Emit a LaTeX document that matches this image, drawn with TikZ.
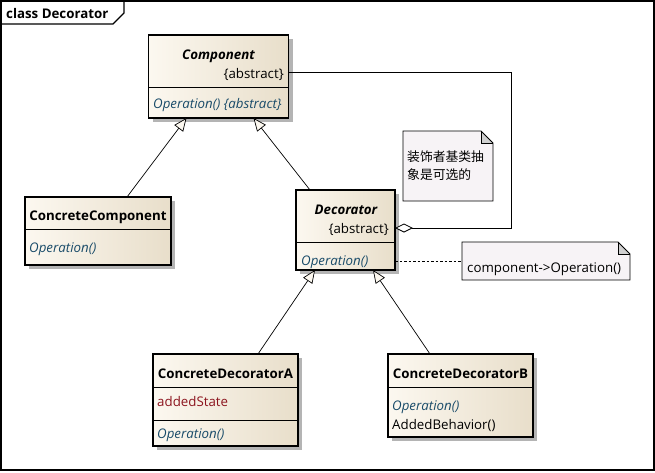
\documentclass[tikz,border=0pt]{standalone}
\usepackage{fontspec}
\setmainfont{Open Sans}
\newfontfamily\cjk{Noto Sans CJK SC}
\usetikzlibrary{arrows.meta,shadows,calc}
\definecolor{boxL}{RGB}{252,248,240}
\definecolor{boxR}{RGB}{232,222,202}
\definecolor{opcol}{RGB}{25,75,105}
\definecolor{attrcol}{RGB}{140,20,30}
\definecolor{notefill}{RGB}{247,243,246}
\definecolor{foldfill}{RGB}{208,208,208}
\definecolor{shadowcol}{RGB}{180,180,180}
\tikzset{
  classbox/.style={draw=black, line width=1.2pt, left color=boxL, right color=boxR,
    inner sep=0pt, outer sep=0pt,
    drop shadow={shadow xshift=4pt, shadow yshift=-4pt, fill=shadowcol, opacity=1}},
  notebox/.style={inner sep=0pt, outer sep=0pt},
  txt/.style={inner sep=0pt, font=\fontsize{13.3}{15}\selectfont, text height=12pt, text depth=2pt},
  titletxt/.style={txt, font=\fontsize{13.3}{15}\selectfont\bfseries},
  abstxt/.style={txt, font=\fontsize{13.3}{15}\selectfont\bfseries\itshape},
  optxt/.style={txt, font=\fontsize{13.3}{15}\selectfont\itshape, text=opcol},
  divider/.style={line width=0.8pt},
  gen/.style={line width=0.7pt, -{Triangle[fill=boxL, length=13pt, width=11pt, line width=0.7pt]}},
  agg/.style={line width=0.9pt, -{Diamond[fill=white, length=18pt, width=9pt, line width=0.8pt]}},
  notelink/.style={line width=0.7pt, dash pattern=on 2.5pt off 2pt},
}
\begin{document}
\begin{tikzpicture}[x=1pt,y=-1pt]
\useasboundingbox (0,0) rectangle (655,472);
% frame
\draw[line width=1.3pt] (1,1) rectangle (654,470);
\draw[line width=1.1pt] (1,24) -- (113,24) -- (124,13) -- (124,1);
\node[titletxt, anchor=west] (ttl) at (6,13) {class Decorator};

% Component
\node[classbox, minimum width=140pt, minimum height=83pt] (comp) at (218.5,76.5) {};
\draw[divider] (148.5,87) -- (288.5,87);
\node[abstxt] (compT) at (218.5,54) {Component};
\node[txt, anchor=east] (compA) at (284,73) {\{abstract\}};
\node[optxt, anchor=west] (compO) at (153,103) {Operation() \{abstract\}};

% ConcreteComponent
\node[classbox, minimum width=146pt, minimum height=68pt] (cc) at (98,231) {};
\draw[divider] (25,229) -- (171,229);
\node[titletxt] (ccT) at (98,215) {ConcreteComponent};
\node[optxt, anchor=west] (ccO) at (29,247) {Operation()};

% Decorator
\node[classbox, minimum width=99pt, minimum height=80pt] (dec) at (345.5,230) {};
\draw[divider] (296,242) -- (395,242);
\node[abstxt] (decT) at (346,209) {Decorator};
\node[txt, anchor=east] (decA) at (389,228) {\{abstract\}};
\node[optxt, anchor=west] (decO) at (301,260) {Operation()};

% ConcreteDecoratorA
\node[classbox, minimum width=145pt, minimum height=92pt] (cda) at (225.5,400) {};
\draw[divider] (153,387) -- (298,387);
\draw[divider] (153,420) -- (298,420);
\node[titletxt] (cdaT) at (225.5,373) {ConcreteDecoratorA};
\node[txt, anchor=west, text=attrcol] (cdaS) at (157,401) {addedState};
\node[optxt, anchor=west] (cdaO) at (157,433) {Operation()};

% ConcreteDecoratorB
\node[classbox, minimum width=145pt, minimum height=83pt] (cdb) at (460.5,395.5) {};
\draw[divider] (388,387) -- (533,387);
\node[titletxt] (cdbT) at (460.5,373) {ConcreteDecoratorB};
\node[optxt, anchor=west] (cdbO) at (392,405) {Operation()};
\node[txt, anchor=west] (cdbB) at (392,424) {AddedBehavior()};

% Note 1
\node[notebox, minimum width=90pt, minimum height=70pt] (n1) at (448,166) {};
\fill[notefill] (n1.north west) -- ($(n1.north east)+(-12,0)$) -- ($(n1.north east)+(0,12)$) -- (n1.south east) -- (n1.south west) -- cycle;
\fill[foldfill] ($(n1.north east)+(-12,0)$) -- ($(n1.north east)+(0,12)$) -- ($(n1.north east)+(-12,12)$) -- cycle;
\draw[line width=0.8pt] (n1.north west) -- ($(n1.north east)+(-12,0)$) -- ($(n1.north east)+(0,12)$) -- (n1.south east) -- (n1.south west) -- cycle;
\draw[line width=0.5pt] ($(n1.north east)+(-12,0)$) -- ($(n1.north east)+(-12,12)$) -- ($(n1.north east)+(0,12)$);
\node[inner sep=0pt, anchor=west, font=\cjk\fontsize{12.8}{14}\selectfont] (n1a) at (407,157) {装饰者基类抽};
\node[inner sep=0pt, anchor=west, font=\cjk\fontsize{12.8}{14}\selectfont] (n1b) at (407,175) {象是可选的};

% Note 2
\node[notebox, minimum width=168pt, minimum height=38pt] (n2) at (546,261) {};
\fill[notefill] (n2.north west) -- ($(n2.north east)+(-12,0)$) -- ($(n2.north east)+(0,12)$) -- (n2.south east) -- (n2.south west) -- cycle;
\fill[foldfill] ($(n2.north east)+(-12,0)$) -- ($(n2.north east)+(0,12)$) -- ($(n2.north east)+(-12,12)$) -- cycle;
\draw[line width=0.8pt] (n2.north west) -- ($(n2.north east)+(-12,0)$) -- ($(n2.north east)+(0,12)$) -- (n2.south east) -- (n2.south west) -- cycle;
\draw[line width=0.5pt] ($(n2.north east)+(-12,0)$) -- ($(n2.north east)+(-12,12)$) -- ($(n2.north east)+(0,12)$);
\node[txt, anchor=west] (n2t) at (467,267) {component->Operation()};

% note link
\draw[notelink] ($(dec.north east)+(0,71)$) -- ($(n2.north west)+(0,19)$);

% aggregation
\coordinate (aggA) at ($(comp.north east)+(0,37)$);
\coordinate (aggB) at ($(dec.north east)+(0,38)$);
\draw[agg] (aggA) -- (511,72) -- (511,228) -- (aggB);

% generalizations
\draw[gen] ($(cc.north west)+(102,0)$) -- ($(comp.south west)+(38,0)$);
\draw[gen] ($(dec.north west)+(14,0)$) -- ($(comp.south west)+(105,0)$);
\draw[gen] ($(cda.north west)+(105,0)$) -- ($(dec.south west)+(19,0)$);
\draw[gen] ($(cdb.north west)+(42,0)$) -- ($(dec.south west)+(77,0)$);
\end{tikzpicture}
\end{document}
